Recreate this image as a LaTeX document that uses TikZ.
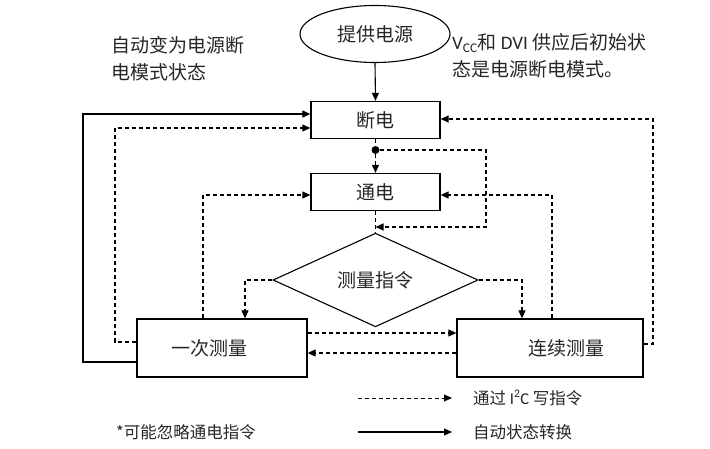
\documentclass[tikz,border=0pt]{standalone}
\usepackage{fontspec}
\setmainfont{Carlito}
\newfontfamily\cjk{Noto Sans CJK SC}
\newfontfamily\latinfont{Carlito}
\usetikzlibrary{arrows.meta,positioning,shapes.geometric}
\tikzset{every node/.append style={font=\cjk\fontsize{19}{27.5}\selectfont, text=black!85}}
\tikzset{
  box/.style={draw, line width=1.3pt, minimum width=129, minimum height=37, inner sep=0pt},
  bigbox/.style={box, minimum height=58},
  cmdline/.style={line width=1.1pt, dash pattern=on 4pt off 3pt, -{Triangle[length=8pt,width=7pt]}},
  autoline/.style={line width=1.1pt, -{Triangle[length=8pt,width=7pt]}},
  note/.style={align=left, inner sep=0pt, anchor=west},
  keytext/.style={note, font=\cjk\fontsize{16.5}{20}\selectfont}
}

\begin{document}
\begin{tikzpicture}[x=1pt,y=-1pt]
  \useasboundingbox (0,0) rectangle (710,449);

  \node[ellipse, draw, line width=1.1pt, minimum width=150, minimum height=57, inner sep=0pt] (supply) at (375,34) {提供电源};
  \node[box] (off) at (375.5,120) {断电};
  \node[circle, fill=black, inner sep=0pt, minimum size=8] (dot) at (375.5,150) {};
  \node[box] (on) at (375.5,192) {通电};
  \node[diamond, draw, line width=1.1pt, minimum width=205, minimum height=74, inner sep=0pt] (cmd) at (375.5,280) {测量指令};
  \node[bigbox, minimum width=170] (once) at (222,348) {一次测量\hspace*{26pt}};
  \node[bigbox, minimum width=186] (cont) at (550,348) {\hspace*{32pt}连续测量};

  \node[note] (autonote) at (111,58.5) {自动变为电源断\\电模式状态};
  \node[note] (initnote) at (452,56) {{\latinfont V\textsubscript{CC}}和 {\latinfont DVI} 供应后初始状\\态是电源断电模式。};

  % power on
  \draw[autoline] (supply.south) -- (off.north);
  \draw[line width=1.1pt, dash pattern=on 4pt off 3pt] (off.south) -- (dot);
  \draw[cmdline] (dot) -- (on.north);
  \coordinate (r1) at (486,227);
  \draw[cmdline] (dot) -| (r1) -- (r1 -| on.south);
  \draw[line width=1.1pt, dash pattern=on 4pt off 3pt] (on.south) -- (cmd.north);

  % measure command
  \draw[cmdline] (cmd.west) -| ([xshift=23]once.north);
  \draw[cmdline] (cmd.east) -| ([xshift=-28]cont.north);
  \draw[cmdline] ([yshift=15]once.east) -- ([yshift=15]once.east -| cont.west);
  \draw[cmdline] ([yshift=-5]cont.west) -- ([yshift=-5]cont.west -| once.east);

  % back to off / on
  \coordinate (l1) at (83,0);
  \coordinate (l2) at (115,0);
  \coordinate (r2) at (653,0);
  \draw[autoline] ([yshift=-14]once.west) -- ([yshift=-14]once.west -| l1) |- ([yshift=6]off.west);
  \draw[cmdline] ([yshift=6]once.west) -- ([yshift=6]once.west -| l2) |- ([yshift=-8]off.west);
  \draw[cmdline] ([xshift=-19]once.north) |- ([yshift=-3]on.west);
  \draw[cmdline] ([xshift=2]cont.north) |- ([yshift=-3]on.east);
  \draw[cmdline] ([yshift=4]cont.east) -- ([yshift=4]cont.east -| r2) |- ([yshift=1]off.east);

  % legend
  \coordinate (k1) at (358,398);
  \coordinate (k2) at (452,398);
  \coordinate (k3) at (358,432);
  \coordinate (k4) at (452,432);
  \draw[cmdline, line width=0.9pt] (k1) -- (k2);
  \draw[autoline] (k3) -- (k4);
  \node[keytext] (i2ckey) at (473,398) {通过 {\latinfont I\textsuperscript{2}C} 写指令};
  \node[keytext] (autokey) at (473,432) {自动状态转换};
  \node[keytext] (skipnote) at (116,432) {*可能忽略通电指令};
\end{tikzpicture}
\end{document}
